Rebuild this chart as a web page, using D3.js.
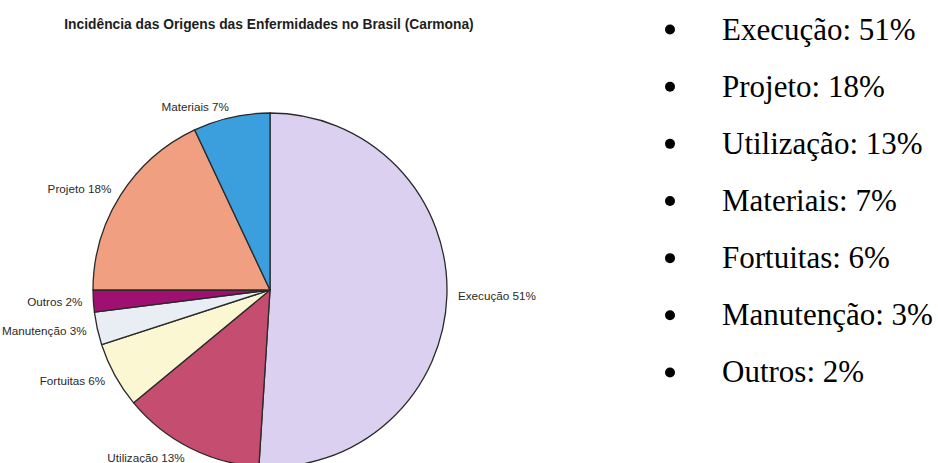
<html>
    <head>
        <meta charset="utf-8">
        <script src="https://d3js.org/d3.v7.min.js"></script>
        <style>
            body{ margin:0; background:#fff; }
            #svg{ background-color:#fff; display:block; }
        </style>
    </head>
    <body>
        <svg id="svg" width="938" height="463"></svg>
        <script>
            // pie order, clockwise from 12 o'clock
            var categories = ["Execução", "Utilização", "Fortuitas", "Manutenção", "Outros", "Projeto", "Materiais"];
            var values = [51, 13, 6, 3, 2, 18, 7];
            var colors = ["#dcd0f0", "#c44d70", "#fbf7d3", "#e9eef5", "#a01070", "#f0a080", "#3a9fdc"];
            var title = "Incidência das Origens das Enfermidades no Brasil (Carmona)";

            var center = {x:270, y:290};
            var radius = 177;
            var labelRadius = 188;

            var svg = d3.select("svg");

            svg.append("text")
                .attr("x", 269)
                .attr("y", 29)
                .attr("text-anchor", "middle")
                .attr("font-family", "Liberation Sans, Arial, sans-serif")
                .attr("font-weight", "bold")
                .attr("font-size", 13.8)
                .attr("fill", "#1e1e1e")
                .text(title);

            var data = categories.map(function(c, i){ return {name:c, value:values[i], color:colors[i]}; });

            var pie = d3.pie().sort(null).value(function(d){ return d.value; });
            var arc = d3.arc().innerRadius(0).outerRadius(radius);
            var arcs = pie(data);

            var g = svg.append("g").attr("transform", "translate(" + center.x + "," + center.y + ")");

            g.selectAll("path")
                .data(arcs)
                .enter().append("path")
                .attr("d", arc)
                .attr("fill", function(d){ return d.data.color; })
                .attr("stroke", "#2a2a2a")
                .attr("stroke-width", 1.3)
                .attr("stroke-linejoin", "round");

            g.selectAll("text.lbl")
                .data(arcs)
                .enter().append("text")
                .attr("class", "lbl")
                .attr("x", function(d){ var a = (d.startAngle + d.endAngle)/2; return labelRadius * Math.sin(a); })
                .attr("y", function(d){ var a = (d.startAngle + d.endAngle)/2; return -labelRadius * Math.cos(a); })
                .attr("dy", "0.35em")
                .attr("text-anchor", function(d){ var a = (d.startAngle + d.endAngle)/2; return Math.sin(a) >= 0 ? "start" : "end"; })
                .attr("font-family", "Liberation Sans, Arial, sans-serif")
                .attr("font-size", 11.7)
                .attr("fill", "#2a2a2a")
                .text(function(d){ return d.data.name + " " + d.data.value + "%"; });

            // bullet list on the right, sorted by value
            var listData = data.slice().sort(function(a, b){ return b.value - a.value; });
            var y = d3.scaleBand().domain(listData.map(function(d){ return d.name; })).range([1, 401]);

            var items = svg.append("g").selectAll("g")
                .data(listData)
                .enter().append("g")
                .attr("transform", function(d){ return "translate(0," + (y(d.name) + y.bandwidth()/2) + ")"; });

            items.append("circle")
                .attr("cx", 670)
                .attr("cy", 0)
                .attr("r", 5)
                .attr("fill", "#000");

            items.append("text")
                .attr("x", 722)
                .attr("y", 10)
                .attr("font-family", "Liberation Serif, Times New Roman, serif")
                .attr("font-size", 31)
                .attr("fill", "#000")
                .text(function(d){ return d.name + ": " + d.value + "%"; });
        </script>
    </body>
</html>
